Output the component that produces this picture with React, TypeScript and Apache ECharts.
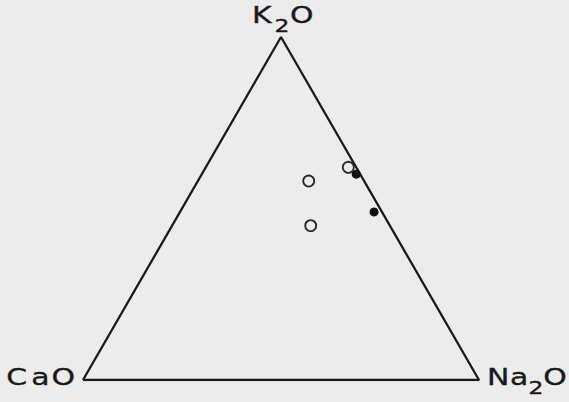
import React, { useEffect, useRef } from "react";
import * as echarts from "echarts";

// Height of an equilateral triangle with unit base
const H = Math.sqrt(3) / 2;

// Compositions (wt. %): K2O, Na2O, CaO
const openK2O = [58, 45, 62];
const openNa2O = [28, 35, 36];
const openCaO = [14, 20, 2];

const filledK2O = [60, 49];
const filledNa2O = [39, 49];
const filledCaO = [1, 2];

// Corners of the diagram as compositions [K2O, Na2O, CaO]
const cornerCaO = [0, 0, 100];
const cornerNa2O = [0, 100, 0];
const cornerK2O = [100, 0, 0];

const toXY = (k: number, n: number, c: number): [number, number] => {
  const s = k + n + c;
  return [(n + k / 2) / s, (k / s) * H];
};

const pointsOf = (k: number[], n: number[], c: number[]) =>
  k.map((v, i) => toXY(v, n[i], c[i]));

const FONT = "DejaVu Sans";
const INK = "#1a1a1a";
const MAIN = 23;
const SUB = 18;
const SUB_DROP = 13.6;

type Glyph = { t: string; sub?: boolean; gap?: number };

// Builds a rich-text label: each glyph is its own token so the spacing
// and the lowered subscript can be tuned individually.
const oxideLabel = (glyphs: Glyph[]) => {
  const rich: Record<string, object> = {};
  const parts = glyphs.map((g, i) => {
    const key = `g${i}`;
    const gap = g.gap ?? 0;
    // a thin stroke of the same colour gives the lettering a slightly heavier weight
    const common = {
      fontFamily: FONT,
      fill: INK,
      stroke: INK,
      lineWidth: 0.35,
    };
    rich[key] = g.sub
      ? { ...common, fontSize: SUB, lineHeight: SUB, padding: [SUB_DROP, gap, 0, 0] }
      : {
          ...common,
          fontSize: MAIN,
          lineHeight: MAIN,
          padding: [0, gap, SUB + SUB_DROP - MAIN, 0],
        };
    return `{${key}|${g.t}}`;
  });
  return { text: parts.join(""), rich };
};

const labelText = (x: number, y: number, glyphs: Glyph[]) => ({
  type: "text",
  x,
  y,
  scaleX: 1.3,
  silent: true,
  style: { ...oxideLabel(glyphs), align: "left", verticalAlign: "top" },
});

export default function App() {
  const ref = useRef<HTMLDivElement>(null);

  useEffect(() => {
    if (!ref.current) return;
    const chart = echarts.init(ref.current, undefined, { renderer: "svg" });

    const outline = [cornerCaO, cornerNa2O, cornerK2O, cornerCaO].map((p) =>
      toXY(p[0], p[1], p[2])
    );

    chart.setOption({
      animation: false,
      backgroundColor: "#ececec",
      grid: { left: 83, top: 37, width: 396, height: 343 },
      xAxis: { type: "value", min: 0, max: 1, show: false },
      yAxis: { type: "value", min: 0, max: H, show: false },
      series: [
        {
          type: "line",
          data: outline,
          symbol: "none",
          lineStyle: { color: INK, width: 2.3 },
          z: 1,
        },
        {
          type: "scatter",
          data: pointsOf(openK2O, openNa2O, openCaO),
          symbol: "circle",
          symbolSize: 11,
          itemStyle: { color: "#ececec", borderColor: "#2a2a2a", borderWidth: 1.8, opacity: 1 },
          z: 2,
        },
        {
          type: "scatter",
          data: pointsOf(filledK2O, filledNa2O, filledCaO),
          symbol: "circle",
          symbolSize: 9,
          itemStyle: { color: "#111111", opacity: 1 },
          z: 3,
        },
      ],
      graphic: [
        labelText(252.1, 7.3, [{ t: "K", gap: 2.1 }, { t: "2", sub: true, gap: 0.6 }, { t: "O" }]),
        labelText(6.2, 369.3, [{ t: "C", gap: 3.2 }, { t: "a", gap: 1.5 }, { t: "O" }]),
        labelText(487.1, 369.3, [{ t: "N", gap: 0.5 }, { t: "a" }, { t: "2", sub: true }, { t: "O" }]),
      ],
    });

    return () => chart.dispose();
  }, []);

  return (
    <div
      ref={ref}
      style={{ position: "fixed", left: 0, top: 0, width: 569, height: 402 }}
    />
  );
}
